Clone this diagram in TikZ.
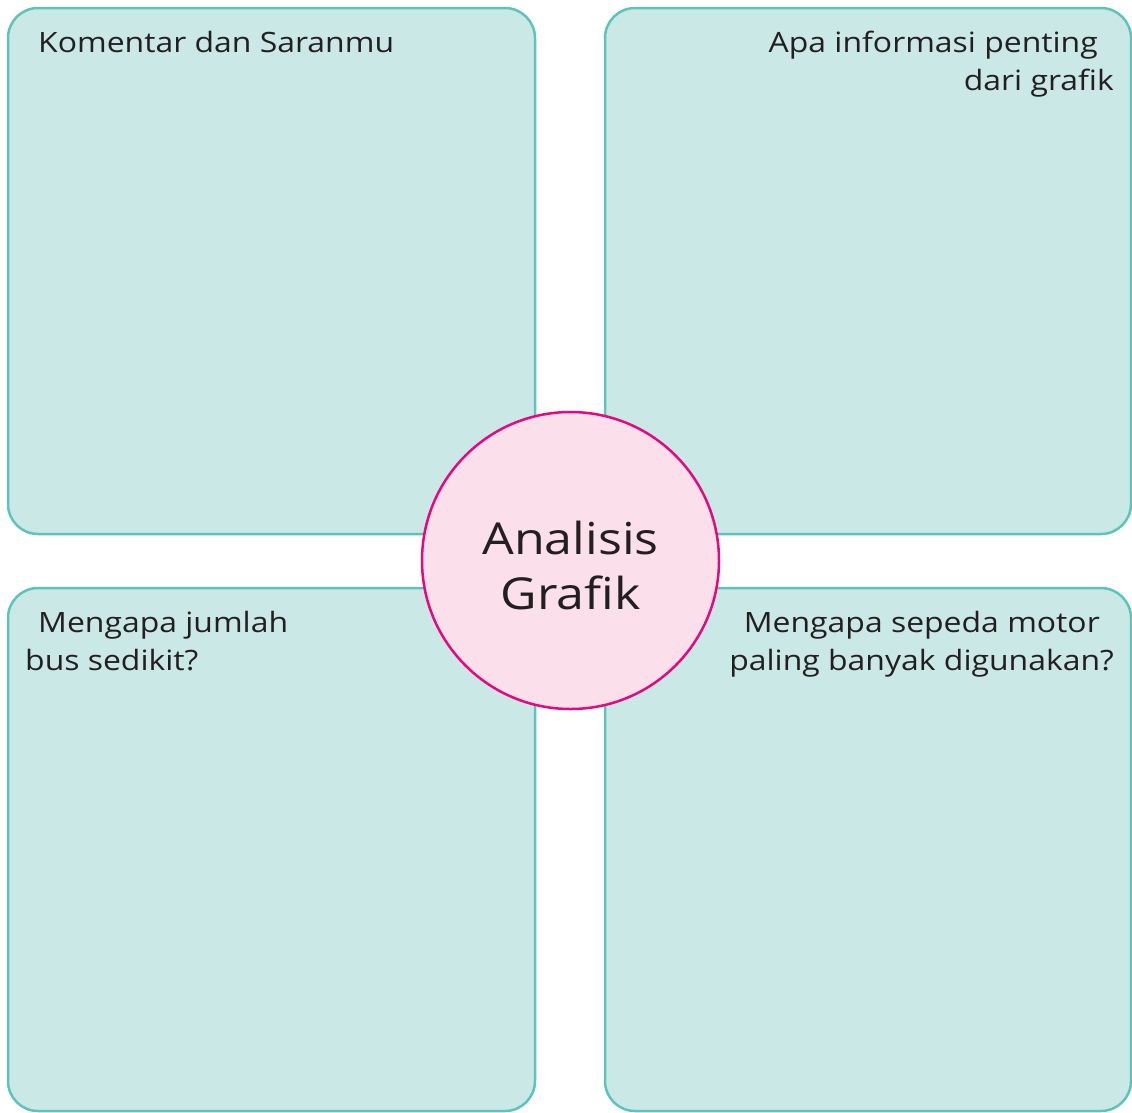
\documentclass[tikz,border=0pt]{standalone}
\usepackage{fontspec}
\setmainfont[FakeStretch=1.14]{Open Sans}
\definecolor{boxfill}{HTML}{C9E8E6}
\definecolor{boxline}{HTML}{5EC4BB}
\definecolor{circfill}{HTML}{FBDFEA}
\definecolor{circline}{HTML}{E5097F}
\definecolor{txt}{HTML}{231F20}
\begin{document}
\begin{tikzpicture}[x=1pt,y=-1pt,
  panel/.style={draw=boxline, fill=boxfill, line width=2.5pt, rounded corners=30pt},
  lbl/.style={inner sep=0pt, text=txt, font=\fontsize{28}{38}\selectfont},
  hub/.style={circle, draw=circline, fill=circfill, line width=2.5pt, minimum size=297pt, inner sep=0pt,
     align=center, text=txt, font=\fontsize{44}{55}\selectfont, text height=98pt, text depth=0pt}]
\useasboundingbox (0,0) rectangle (1132,1112);
\draw[panel] (8,8) rectangle (535,534);
\draw[panel] (605,8) rectangle (1131,534);
\draw[panel] (8,588) rectangle (535,1111);
\draw[panel] (605,588) rectangle (1131,1111);
\node[hub] (hub) at (570.5,560.5) {Analisis\\Grafik};
\node[lbl, anchor=base west] (k) at (38,52) {Komentar dan Saranmu};
\node[lbl, anchor=base east, align=right] (a) at (1114,90) {Apa informasi penting\hspace*{16pt}\\dari grafik};
\node[lbl, anchor=base west, align=left] (b) at (25,670) {\hspace*{13pt}Mengapa jumlah\\bus sedikit?};
\node[lbl, anchor=base east, align=right] (m) at (1114,670) {Mengapa sepeda motor\hspace*{14pt}\\paling banyak digunakan?};
\end{tikzpicture}
\end{document}
